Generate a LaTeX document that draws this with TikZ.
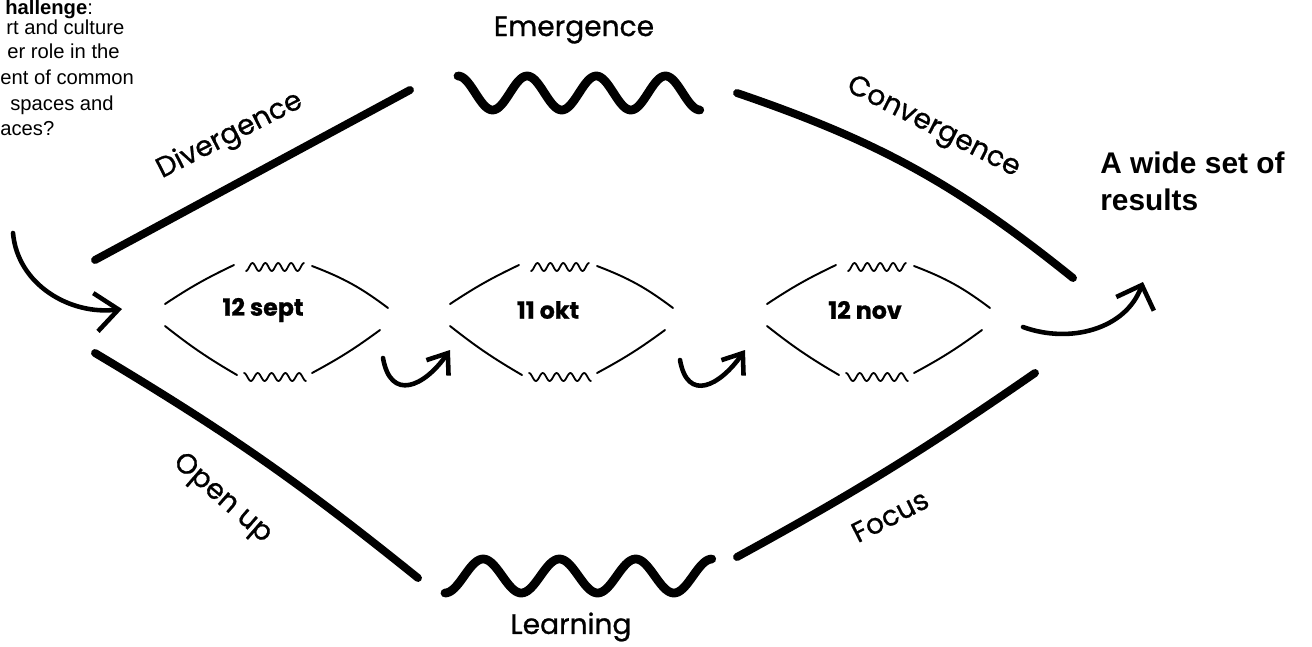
\documentclass[tikz,border=0pt]{standalone}
\usepackage{fontspec}
\setmainfont{Liberation Sans}
\newfontfamily\handfont[FakeBold=0.8]{Poppins}
\usetikzlibrary{arrows.meta}
\tikzstyle{bigline} = [line width=4.5pt, line cap=round]
\tikzstyle{bigwave} = [line width=5pt, line cap=round, line join=round]
\tikzstyle{thinline} = [line width=1.1pt, line cap=round]
\tikzstyle{smallwave} = [line width=1pt, line cap=round, line join=round]
\tikzstyle{flow} = [line width=2.6pt, line cap=round]
\tikzstyle{phase} = [font=\handfont\fontsize{16}{16}\selectfont]
\tikzstyle{datelabel} = [font=\handfont\bfseries\fontsize{13.5}{13.5}\selectfont]
\tikzstyle{note} = [font=\fontsize{11.5}{12}\selectfont, anchor=base west, inner sep=0pt]

\begin{document}
\begin{tikzpicture}[x=0.02cm, y=-0.02cm]
\useasboundingbox (0,0) rectangle (1312,646);

% Challenge text, cut by the left edge
\node (ch1) [note] at (5,14) {\textbf{hallenge}:};
\node (ch2) [note] at (6,34) {rt and culture};
\node (ch3) [note] at (7,58) {er role in the};
\node (ch4) [note] at (0,84) {ent of common};
\node (ch5) [note] at (10,110) {spaces and};
\node (ch6) [note] at (0,135) {aces?};

% Result
\node (result) [anchor=north west, align=left, inner sep=0pt, font=\bfseries\fontsize{17}{21}\selectfont] at (1100,152) {A wide set of\\results};

% Outer diamond
\coordinate (divA) at (95,260);
\coordinate (divB) at (410,90);
\coordinate (conA) at (737,93);
\coordinate (conB) at (1073,278);
\coordinate (opnA) at (95,353);
\coordinate (opnB) at (418,578);
\coordinate (focA) at (737,557);
\coordinate (focB) at (1035,373);
\draw [bigline] (divA) -- (divB);
\draw [bigline] (conA) to[bend left=10] (conB);
\draw [bigline] (opnA) to[bend left=4] (opnB);
\draw [bigline] (focA) to[bend right=3] (focB);

% Emergence and learning waves
\draw [bigwave] plot[domain=0:1, samples=140] ({458+242*\x},{93-17*cos(1260*\x)});
\draw [bigwave] plot[domain=0:1, samples=140] ({445+267*\x},{576+17*cos(1260*\x)});

% Phase labels
\node (emergence) [phase] at (574,30) {Emergence};
\node (divergence) [phase, rotate=27] at (230,136) {Divergence};
\node (convergence) [phase, rotate=-27] at (933,128) {Convergence};
\node (openup) [phase, rotate=-41] at (222,499) {Open up};
\node (focus) [phase, rotate=27] at (890,516) {Focus};
\node (learning) [phase] at (571,627) {Learning};

% Sessions
\foreach \xo/\date/\i in {165/12 sept/1, 450/11 okt/2, 767/12 nov/3} {
  \draw [thinline] (\xo,304) to[bend left=4] ({\xo+69},265);
  \draw [thinline] ({\xo+147},266) to[bend left=8] ({\xo+223},308);
  \draw [thinline] (\xo,326) to[bend right=4] ({\xo+72},375);
  \draw [thinline] ({\xo+147},373) to[bend right=4] ({\xo+215},330);
  \draw [smallwave] plot[domain=0:1, samples=70] ({\xo+81+58*\x},{267+4*cos(1620*\x)});
  \draw [smallwave] plot[domain=0:1, samples=70] ({\xo+79+62*\x},{377-4*cos(1620*\x)});
  \node (date\i) [datelabel] at ({\xo+98},310) {\date};
}

% Arrows
\coordinate (inA) at (13,233);
\coordinate (inB) at (122,309);
\coordinate (stepA1) at (383,358);
\coordinate (stepB1) at (450,350);
\coordinate (stepA2) at (680,360);
\coordinate (stepB2) at (745,350);
\coordinate (outA) at (1023,327);
\coordinate (outB) at (1143,282);
\draw [flow, -{Straight Barb[length=4.6mm, width=7.7mm]}] (inA) to[out=-85, in=187] (inB);
\draw [flow, -{Straight Barb[length=3.6mm, width=5.4mm]}] (stepA1) to[out=-80, in=235, looseness=1.7] (stepB1);
\draw [flow, -{Straight Barb[length=3.6mm, width=5.4mm]}] (stepA2) to[out=-80, in=235, looseness=1.7] (stepB2);
\draw [flow, -{Straight Barb[length=4mm, width=8mm]}] (outA) to[out=-20, in=250] (outB);

\end{tikzpicture}
\end{document}
